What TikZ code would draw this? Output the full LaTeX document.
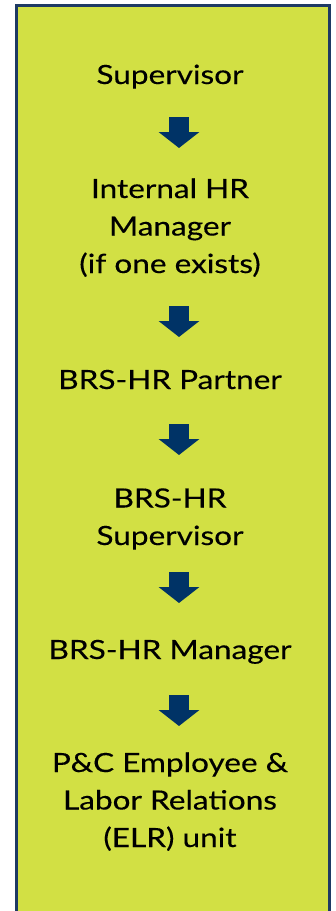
\documentclass[tikz,border=0pt]{standalone}
\usepackage{fontspec}
\setmainfont{Lato}[FakeStretch=1.19, FakeBold=0.3]
\usetikzlibrary{arrows.meta}

\definecolor{limefill}{RGB}{210,224,68}
\definecolor{boxline}{RGB}{30,58,100}
\definecolor{navyarrow}{RGB}{0,51,102}

\begin{document}
\begin{tikzpicture}[x=1pt, y=-1pt]
\tikzstyle{level}=[align=center, inner sep=0pt, anchor=base, font=\fontsize{26.5}{37.5}\selectfont]
\tikzstyle{flow}=[navyarrow, line width=20pt, -{Triangle[width=40pt, length=16pt]}]
\useasboundingbox (0,0) rectangle (336,911);
\clip (0,0) rectangle (336,911);
\draw [boxline, fill=limefill, line width=3pt] (16.5,5.5) rectangle (329.5,930);

% anchor base = baseline of the last line
\node (sup) [level] at (170,84)   {Supervisor};
\node (ihr) [level] at (170,273)  {Internal HR\\ Manager\\ (if one exists)};
\node (par) [level] at (170,389)  {BRS-HR Partner};
\node (bsv) [level] at (170,545)  {BRS-HR\\ Supervisor};
\node (man) [level] at (170,659)  {BRS-HR Manager};
\node (elr) [level] at (170,847)  {P\&C Employee \&\\ Labor Relations\\ (ELR) unit};

\coordinate (a1) at (179,117);
\coordinate (a2) at (179,306);
\coordinate (a3) at (179,424);
\coordinate (a4) at (179,572);
\coordinate (a5) at (179,695);

\draw [flow] (a1) -- ++(0,31);
\draw [flow] (a2) -- ++(0,31);
\draw [flow] (a3) -- ++(0,31);
\draw [flow] (a4) -- ++(0,31);
\draw [flow] (a5) -- ++(0,31);

\end{tikzpicture}
\end{document}
